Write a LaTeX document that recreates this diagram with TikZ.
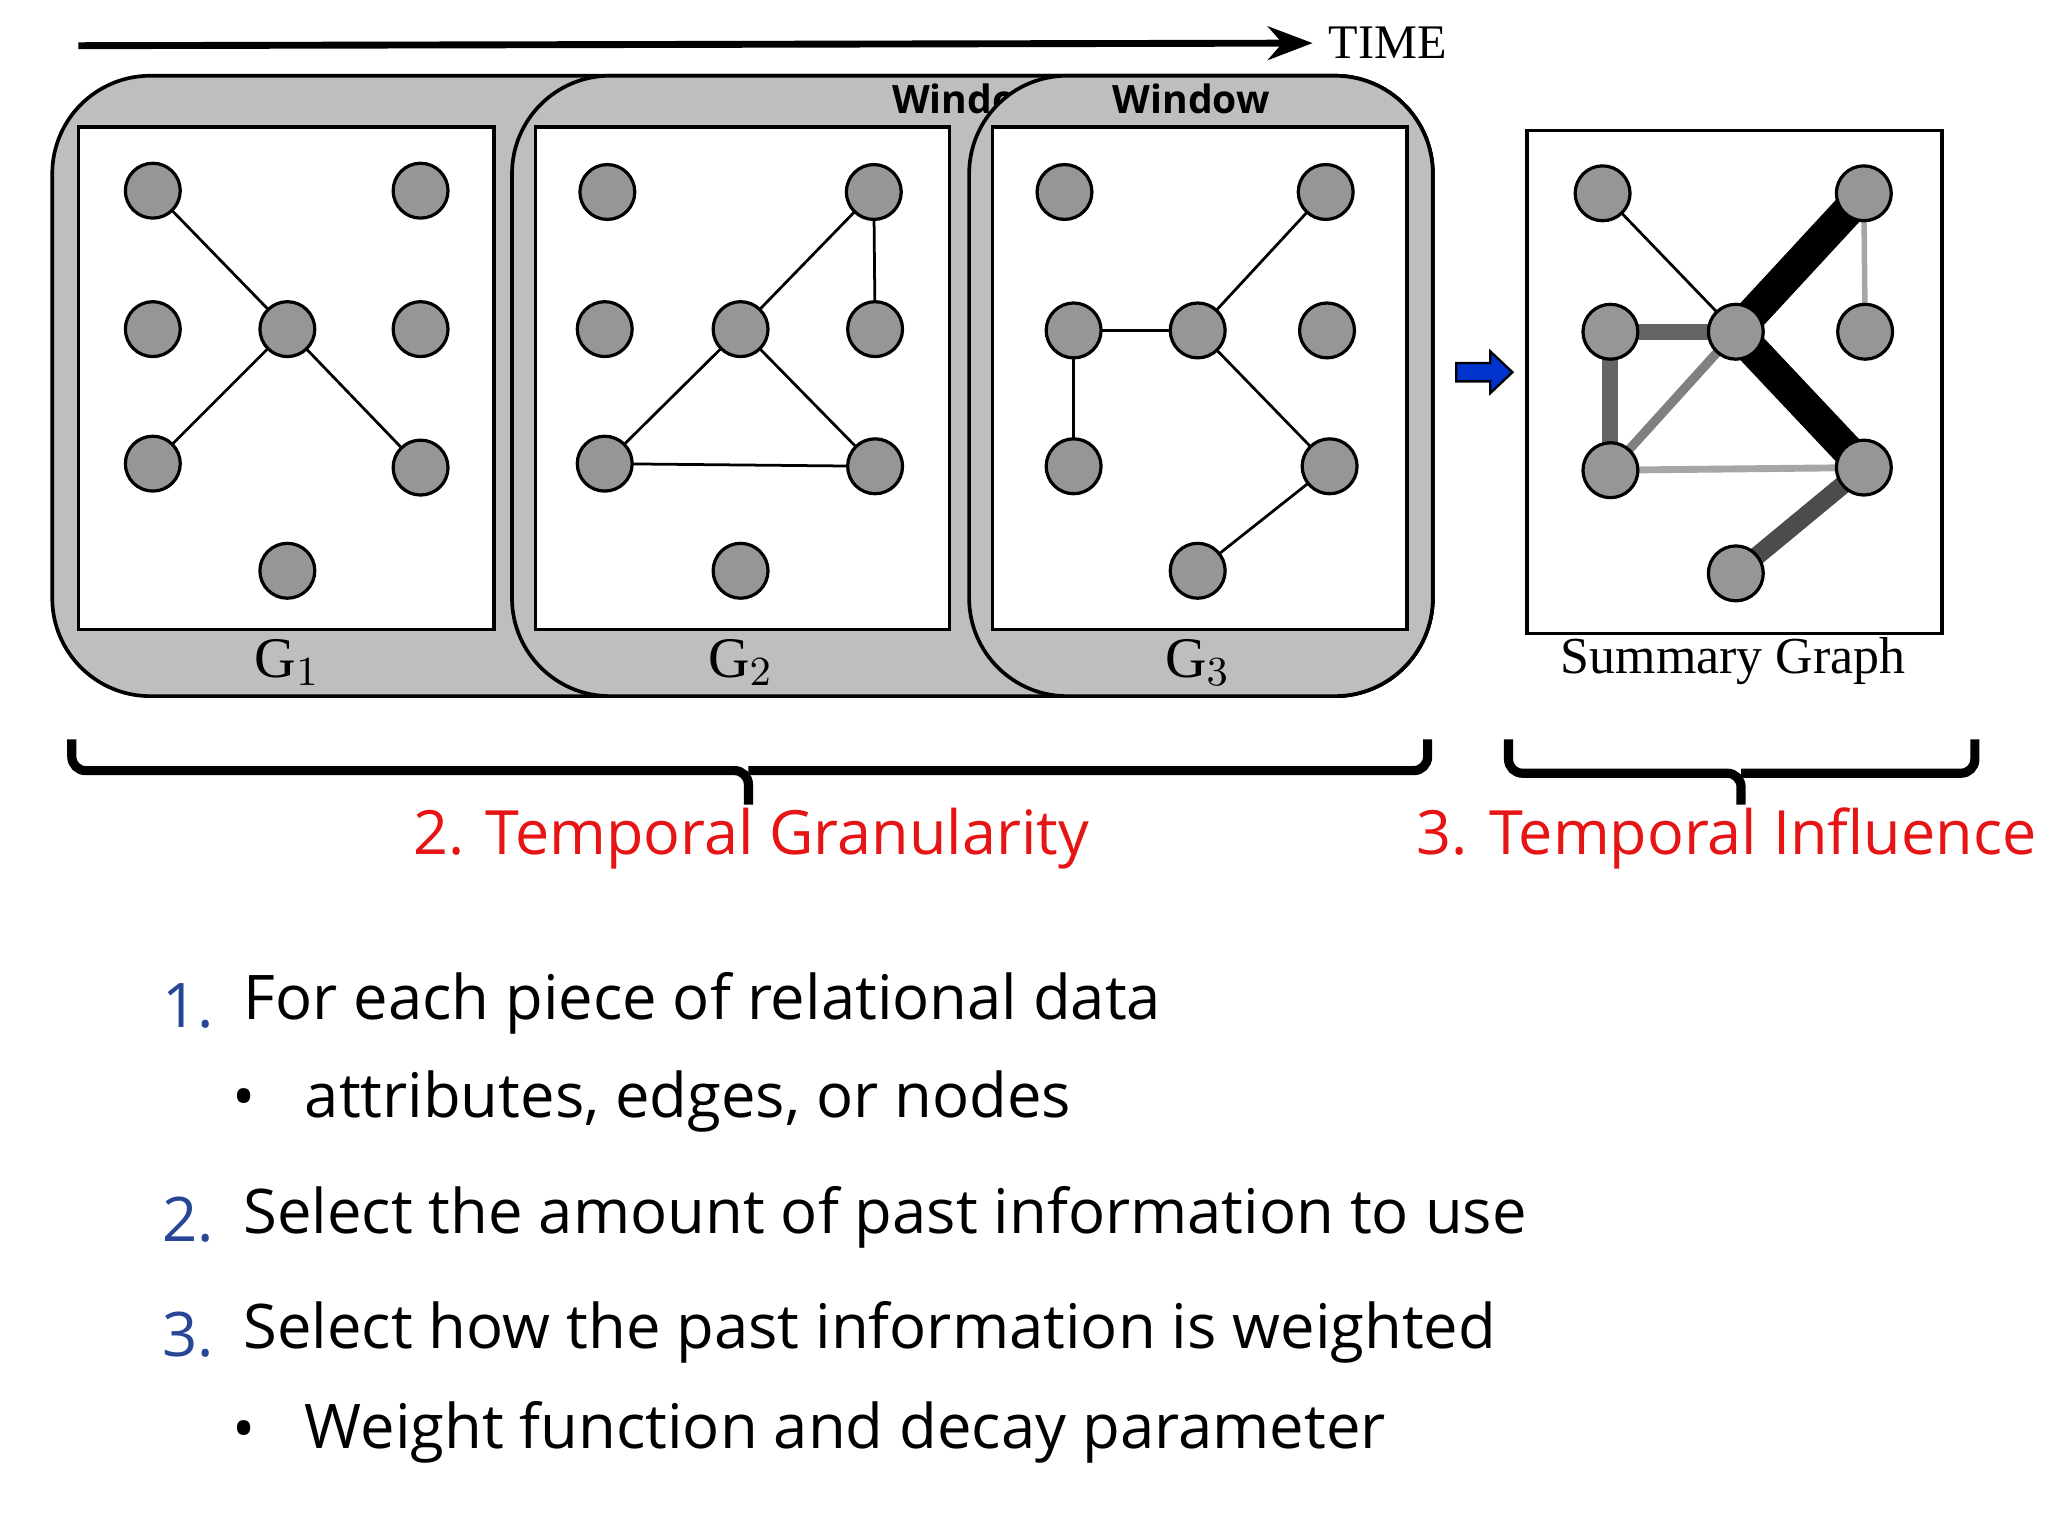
\documentclass[tikz,border=0pt]{standalone}
\usepackage{fontspec}
\setmainfont{Open Sans}
\newfontfamily\serifface{Liberation Serif}
\usetikzlibrary{arrows.meta}
\definecolor{nodegray}{RGB}{150,150,150}
\definecolor{wingray}{RGB}{190,190,190}
\definecolor{numblue}{RGB}{40,70,150}
\definecolor{tred}{RGB}{230,20,20}
\begin{document}
\begin{tikzpicture}[x=0.01cm,y=-0.01cm,
      vtx/.style={circle,draw=black,fill=nodegray,minimum size=0.42cm,inner sep=0pt,line width=0.7pt},
      win/.style={draw=black,fill=wingray,line width=0.8pt,rounded corners=0.75cm},
      frame/.style={draw=black,fill=white,line width=0.8pt},
      edge/.style={line width=0.6pt},
      glabel/.style={font=\serifface\fontsize{12.5}{15}\selectfont},
      wlabel/.style={font=\bfseries\fontsize{8.5}{11}\selectfont},
      brace/.style={line width=2pt,rounded corners=3pt},
      redtxt/.style={text=tred,font=\fontsize{13.3}{16}\selectfont},
      item/.style={anchor=west,font=\fontsize{13.4}{16}\selectfont},
      num/.style={anchor=east,text=numblue,font=\fontsize{13.4}{16}\selectfont}
      ]
      \useasboundingbox (0,0) rectangle (1568,1176);
      % time axis
      \coordinate (t0) at (60,35);
      \node[font=\serifface\fontsize{10.5}{13}\selectfont,anchor=west] (time) at (1005,33) {TIME};
      \draw[line width=1.5pt,-Stealth] (t0) -- (time.west);
      % windows
      \path[win] (40,58) rectangle (1097,533);
      \path[win] (392,58) rectangle (1097,533);
      \node[wlabel] (w2) at (743,76) {Window};
      \path[win] (742,58) rectangle (1097,533);
      \node[wlabel] (w3) at (912,76) {Window};
      % graph frames
      \path[frame] (60,97) rectangle (378,482);
      \path[frame] (410,97) rectangle (727,482);
      \path[frame] (760,97) rectangle (1077,482);
      \path[frame] (1169,100) rectangle (1487,485);
      \node[glabel] (l1) at (220,507) {G$_1$};
      \node[glabel] (l2) at (567,507) {G$_2$};
      \node[glabel] (l3) at (917,507) {G$_3$};
      \node[glabel,font=\serifface\fontsize{11.3}{14}\selectfont] (ls) at (1327,506) {Summary Graph};
      % vertices
      \foreach \n/\x/\y in {a1/117/146,a2/322/146,a3/117/252,a4/220/252,a5/322/252,a6/117/355,a7/322/358,a8/220/437,
        b1/465/147,b2/669/147,b3/463/252,b4/567/252,b5/670/252,b6/463/355,b7/670/357,b8/567/437,
        c1/815/147,c2/1015/147,c3/822/253,c4/917/253,c5/1016/253,c6/822/357,c7/1018/357,c8/917/437,
        s1/1227/148,s2/1427/148,s3/1233/254,s4/1329/254,s5/1428/254,s6/1233/360,s7/1427/358,s8/1329/439}
        \coordinate (\n) at (\x,\y);
      % edges
      \foreach \i/\j in {a1/a4,a4/a6,a4/a7,b4/b2,b2/b5,b4/b6,b4/b7,b6/b7,c3/c4,c3/c6,c4/c2,c4/c7,c7/c8}
        \draw[edge] (\i) -- (\j);
      \foreach \i/\j/\w/\c in {s2/s5/1.2pt/black!35,s6/s7/1.5pt/black!35,s4/s6/2pt/black!50,
        s1/s4/0.6pt/black,s3/s4/3.5pt/black!60,s3/s6/3.5pt/black!60,s7/s8/4pt/black!70,
        s4/s2/7pt/black,s4/s7/7pt/black}
        \draw[line width=\w,draw=\c] (\i) -- (\j);
      \foreach \n in {a,b,c,s}
        \foreach \k in {1,...,8}
          \node[vtx] (\n\k v) at (\n\k) {};
      % blue arrow
      \coordinate (ba) at (1115,285);
      \draw[fill=blue!75!cyan!80!black,line width=0.5pt] (ba) ++(0,-7) -- ++(26,0) -- ++(0,-9) -- ++(17,16) -- ++(-17,16) -- ++(0,-9) -- ++(-26,0) -- cycle;
      % braces
      \draw[brace] (55,566) -- (55,590) -- (573,590) -- (573,616);
      \draw[brace] (573,590) -- (1093,590) -- (1093,566);
      \draw[brace] (1155,566) -- (1155,592) -- (1333,592) -- (1333,616);
      \draw[brace] (1333,592) -- (1512,592) -- (1512,566);
      \node[redtxt] (g2) at (575,642) {2. Temporal Granularity};
      \node[redtxt] (g3) at (1322,642) {3. Temporal Influence};
      % list
      \node[num] (n1) at (176,770) {1.};
      \node[item] (i1) at (174,768) {For each piece of relational data};
      \node[anchor=east,font=\fontsize{13.4}{16}\selectfont] (d1) at (208,845) {•};
      \node[item] (i2) at (221,843) {attributes, edges, or nodes};
      \node[num] (n2) at (176,934) {2.};
      \node[item] (i3) at (174,932) {Select the amount of past information to use};
      \node[num] (n3) at (176,1022) {3.};
      \node[item] (i4) at (174,1020) {Select how the past information is weighted};
      \node[anchor=east,font=\fontsize{13.4}{16}\selectfont] (d2) at (208,1099) {•};
      \node[item] (i5) at (221,1097) {Weight function and decay parameter};
\end{tikzpicture}
\end{document}
